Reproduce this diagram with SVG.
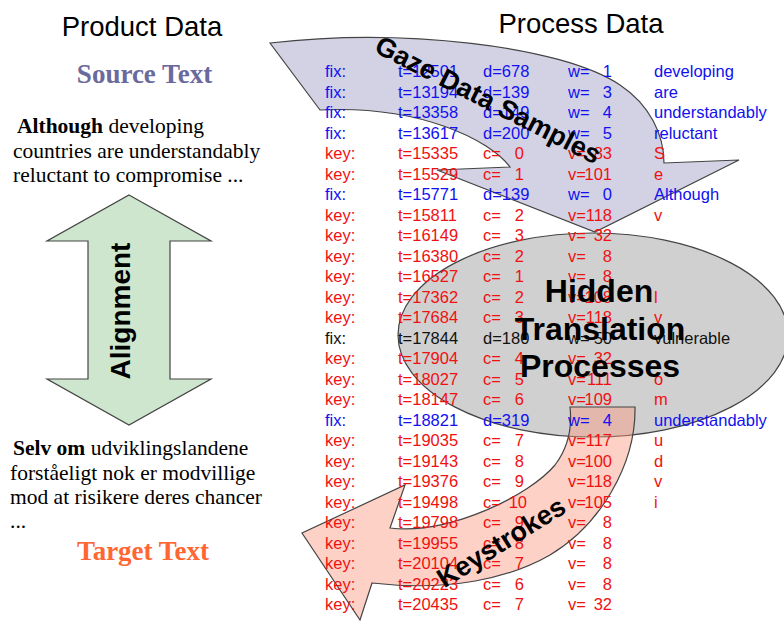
<svg xmlns="http://www.w3.org/2000/svg" width="784" height="621" viewBox="0 0 784 621">
<style>
.hdr{font-family:"Liberation Sans",Arial,sans-serif;font-size:27.5px;fill:#000;text-anchor:middle}
.ttl{font-family:"Liberation Serif","Times New Roman",serif;font-size:27px;font-weight:bold;text-anchor:middle}
.para{font-family:"Liberation Serif","Times New Roman",serif;font-size:21.5px;fill:#000}
.bd{font-weight:bold}
.lbl{font-family:"Liberation Sans",Arial,sans-serif;font-weight:bold;fill:#000;text-anchor:middle}
.row text{font-family:"Liberation Sans",Arial,sans-serif;font-size:16.5px}
.row .n{text-anchor:end}
.blue{fill:#1010f0}
.red{fill:#f01010}
.blk{fill:#111}
.shape{stroke:#444;stroke-width:1.2}
</style>
<rect width="784" height="621" fill="#fff"/>
<g id="shapes">
<path id="gaze-arrow" class="shape" fill="#d2d2e4" d="M270,43 C400,28 560,45 620,85 C650,105 664,135 664,163 L739,160 L595,232 L437,170 L510,167 C490,140 420,105 320,110 Z"/>
<ellipse id="hidden-processes" class="shape" cx="593" cy="335" rx="195" ry="102" fill="#d0d0d0"/>
<path id="keystroke-arrow" class="shape" fill="#fa9a80" fill-opacity="0.45" d="M570,407 L635,407 C636,465 600,525 550,555 C510,578 450,592 372,583 L360,620 L302,533 L405,485 L390,528 C450,535 530,495 555,465 C570,445 572,425 570,407 Z"/>
<path id="alignment-arrow" class="shape" fill="#cde6cd" d="M129,195 L211,241 L170,241 L170,379 L211,379 L129,425 L47,379 L88,379 L88,241 L47,241 Z"/>
</g>
<g id="headers">
<text class="hdr" x="142" y="36">Product Data</text>
<text class="hdr" x="581" y="33">Process Data</text>
</g>
<g id="source">
<text class="ttl" x="144.5" y="83" fill="#6a6a9c">Source Text</text>
<text class="para" x="17" y="133"><tspan class="bd">Although</tspan> developing</text>
<text class="para" x="13" y="158">countries are understandably</text>
<text class="para" x="13" y="182">reluctant to compromise ...</text>
</g>
<g id="target">
<text class="para" x="13" y="455"><tspan class="bd">Selv om</tspan> udviklingslandene</text>
<text class="para" x="10" y="480">forståeligt nok er modvillige</text>
<text class="para" x="10" y="504">mod at risikere deres chancer</text>
<text class="para" x="10" y="528">...</text>
<text class="ttl" x="143" y="560" fill="#ff6633">Target Text</text>
</g>
<g id="table">
<g class="row blue" transform="translate(0,77)"><text x="325">fix:</text><text x="398">t=12501</text><text x="483">d=678</text><text x="568">w=</text><text class="n" x="612">1</text><text x="654">developing</text></g>
<g class="row blue" transform="translate(0,97.5)"><text x="325">fix:</text><text x="398">t=13194</text><text x="483">d=139</text><text x="568">w=</text><text class="n" x="612">3</text><text x="654">are</text></g>
<g class="row blue" transform="translate(0,118)"><text x="325">fix:</text><text x="398">t=13358</text><text x="483">d=149</text><text x="568">w=</text><text class="n" x="612">4</text><text x="654">understandably</text></g>
<g class="row blue" transform="translate(0,138.5)"><text x="325">fix:</text><text x="398">t=13617</text><text x="483">d=200</text><text x="568">w=</text><text class="n" x="612">5</text><text x="654">reluctant</text></g>
<g class="row red" transform="translate(0,159)"><text x="325">key:</text><text x="398">t=15335</text><text x="483">c=</text><text class="n" x="524">0</text><text x="568">v=</text><text class="n" x="612">83</text><text x="654">S</text></g>
<g class="row red" transform="translate(0,179.5)"><text x="325">key:</text><text x="398">t=15529</text><text x="483">c=</text><text class="n" x="524">1</text><text x="568">v=</text><text class="n" x="612">101</text><text x="654">e</text></g>
<g class="row blue" transform="translate(0,200)"><text x="325">fix:</text><text x="398">t=15771</text><text x="483">d=139</text><text x="568">w=</text><text class="n" x="612">0</text><text x="654">Although</text></g>
<g class="row red" transform="translate(0,220.5)"><text x="325">key:</text><text x="398">t=15811</text><text x="483">c=</text><text class="n" x="524">2</text><text x="568">v=</text><text class="n" x="612">118</text><text x="654">v</text></g>
<g class="row red" transform="translate(0,241)"><text x="325">key:</text><text x="398">t=16149</text><text x="483">c=</text><text class="n" x="524">3</text><text x="568">v=</text><text class="n" x="612">32</text></g>
<g class="row red" transform="translate(0,261.5)"><text x="325">key:</text><text x="398">t=16380</text><text x="483">c=</text><text class="n" x="524">2</text><text x="568">v=</text><text class="n" x="612">8</text></g>
<g class="row red" transform="translate(0,282)"><text x="325">key:</text><text x="398">t=16527</text><text x="483">c=</text><text class="n" x="524">1</text><text x="568">v=</text><text class="n" x="612">8</text></g>
<g class="row red" transform="translate(0,302.5)"><text x="325">key:</text><text x="398">t=17362</text><text x="483">c=</text><text class="n" x="524">2</text><text x="568">v=</text><text class="n" x="612">108</text><text x="654">l</text></g>
<g class="row red" transform="translate(0,323)"><text x="325">key:</text><text x="398">t=17684</text><text x="483">c=</text><text class="n" x="524">3</text><text x="568">v=</text><text class="n" x="612">118</text><text x="654">v</text></g>
<g class="row blk" transform="translate(0,343.5)"><text x="325">fix:</text><text x="398">t=17844</text><text x="483">d=180</text><text x="568">w=</text><text class="n" x="612">50</text><text x="654">vulnerable</text></g>
<g class="row red" transform="translate(0,364)"><text x="325">key:</text><text x="398">t=17904</text><text x="483">c=</text><text class="n" x="524">4</text><text x="568">v=</text><text class="n" x="612">32</text></g>
<g class="row red" transform="translate(0,384.5)"><text x="325">key:</text><text x="398">t=18027</text><text x="483">c=</text><text class="n" x="524">5</text><text x="568">v=</text><text class="n" x="612">111</text><text x="654">o</text></g>
<g class="row red" transform="translate(0,405)"><text x="325">key:</text><text x="398">t=18147</text><text x="483">c=</text><text class="n" x="524">6</text><text x="568">v=</text><text class="n" x="612">109</text><text x="654">m</text></g>
<g class="row blue" transform="translate(0,425.5)"><text x="325">fix:</text><text x="398">t=18821</text><text x="483">d=319</text><text x="568">w=</text><text class="n" x="612">4</text><text x="654">understandably</text></g>
<g class="row red" transform="translate(0,446)"><text x="325">key:</text><text x="398">t=19035</text><text x="483">c=</text><text class="n" x="524">7</text><text x="568">v=</text><text class="n" x="612">117</text><text x="654">u</text></g>
<g class="row red" transform="translate(0,466.5)"><text x="325">key:</text><text x="398">t=19143</text><text x="483">c=</text><text class="n" x="524">8</text><text x="568">v=</text><text class="n" x="612">100</text><text x="654">d</text></g>
<g class="row red" transform="translate(0,487)"><text x="325">key:</text><text x="398">t=19376</text><text x="483">c=</text><text class="n" x="524">9</text><text x="568">v=</text><text class="n" x="612">118</text><text x="654">v</text></g>
<g class="row red" transform="translate(0,507.5)"><text x="325">key:</text><text x="398">t=19498</text><text x="483">c=</text><text class="n" x="527">10</text><text x="568">v=</text><text class="n" x="612">105</text><text x="654">i</text></g>
<g class="row red" transform="translate(0,528)"><text x="325">key:</text><text x="398">t=19798</text><text x="483">c=</text><text class="n" x="524">9</text><text x="568">v=</text><text class="n" x="612">8</text></g>
<g class="row red" transform="translate(0,548.5)"><text x="325">key:</text><text x="398">t=19955</text><text x="483">c=</text><text class="n" x="524">8</text><text x="568">v=</text><text class="n" x="612">8</text></g>
<g class="row red" transform="translate(0,569)"><text x="325">key:</text><text x="398">t=20104</text><text x="483">c=</text><text class="n" x="524">7</text><text x="568">v=</text><text class="n" x="612">8</text></g>
<g class="row red" transform="translate(0,589.5)"><text x="325">key:</text><text x="398">t=20223</text><text x="483">c=</text><text class="n" x="524">6</text><text x="568">v=</text><text class="n" x="612">8</text></g>
<g class="row red" transform="translate(0,610)"><text x="325">key:</text><text x="398">t=20435</text><text x="483">c=</text><text class="n" x="524">7</text><text x="568">v=</text><text class="n" x="612">32</text></g>
</g>
<g id="labels">
<text class="lbl" font-size="27" transform="translate(484,108) rotate(27)">Gaze Data Samples</text>
<text class="lbl" font-size="32" x="599" y="302">Hidden</text>
<text class="lbl" font-size="32" x="600" y="340">Translation</text>
<text class="lbl" font-size="32" x="600" y="377">Processes</text>
<text class="lbl" font-size="27" transform="translate(506,550) rotate(-32)">Keystrokes</text>
<text class="lbl" font-size="28" fill="#0a3d0a" transform="translate(130,311) rotate(-90)">Alignment</text>
</g>
</svg>
